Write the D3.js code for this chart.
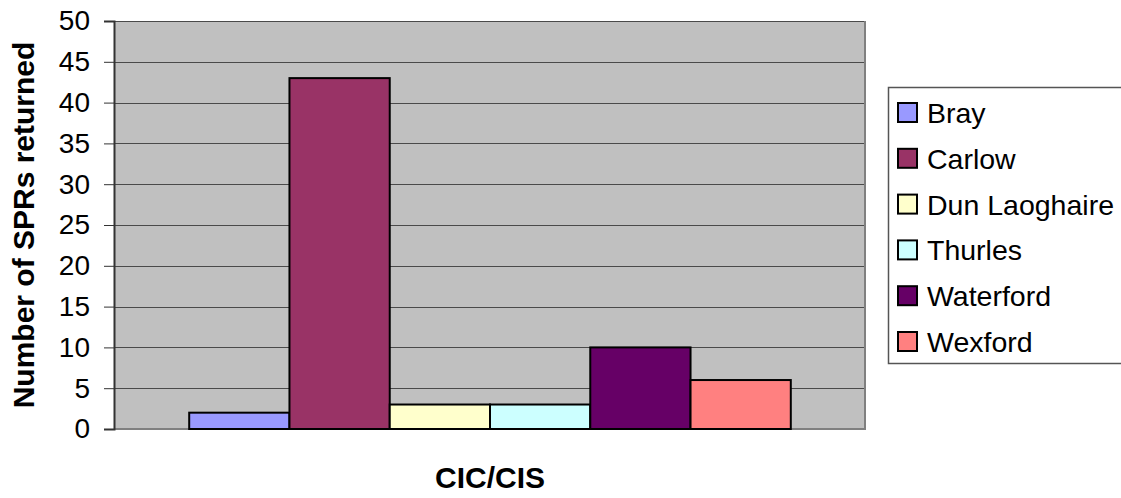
<!DOCTYPE html>
<html>
<head>
<meta charset="utf-8">
<script src="https://cdn.jsdelivr.net/npm/d3@7"></script>
<style>
  html, body { margin: 0; padding: 0; background: #fff; }
  svg { display: block; font-family: "Liberation Sans", Arial, sans-serif; }
</style>
</head>
<body>
<svg id="chart" width="1121" height="498"></svg>
<script>
// Returned SPRs per office, one category on the x axis
const categories = ["CIC/CIS"];
const seriesNames = ["Bray", "Carlow", "Dun Laoghaire", "Thurles", "Waterford", "Wexford"];
const seriesValues = [2, 43, 3, 3, 10, 6];
const seriesColors = ["#9999ff", "#993366", "#ffffcc", "#ccffff", "#660066", "#ff8080"];
const yTicks = [0, 5, 10, 15, 20, 25, 30, 35, 40, 45, 50];

const svg = d3.select("#chart");
const plot = { left: 114, right: 866, top: 21, bottom: 429 };

const y = d3.scaleLinear().domain([0, 50]).range([plot.bottom, plot.top]);
const x0 = d3.scaleBand().domain(categories).range([plot.left, plot.right]).padding(0);
const x1 = d3.scaleBand().domain(seriesNames).range([0, x0.bandwidth()])
  .paddingInner(0).paddingOuter(0.75);

// plot background
svg.append("rect")
  .attr("x", plot.left).attr("y", plot.top)
  .attr("width", plot.right - plot.left).attr("height", plot.bottom - plot.top)
  .attr("fill", "#c0c0c0");

// horizontal gridlines
svg.append("g").selectAll("line")
  .data(yTicks.filter(d => d > 0))
  .join("line")
  .attr("x1", plot.left).attr("x2", plot.right)
  .attr("y1", d => Math.round(y(d)) + 0.5).attr("y2", d => Math.round(y(d)) + 0.5)
  .attr("stroke", "#4a4a4a").attr("stroke-width", 1);

// right and bottom frame of the plot area
svg.append("path")
  .attr("d", `M${plot.right - 1},${plot.top} V${plot.bottom} H${plot.left}`)
  .attr("fill", "none").attr("stroke", "#808080").attr("stroke-width", 2);

// bars
const groups = svg.append("g").selectAll("g")
  .data(categories)
  .join("g")
  .attr("transform", d => `translate(${x0(d)},0)`);

groups.selectAll("rect")
  .data(() => seriesNames.map((name, i) => ({ name, value: seriesValues[i], color: seriesColors[i] })))
  .join("rect")
  .attr("x", d => x1(d.name))
  .attr("y", d => y(d.value))
  .attr("width", x1.bandwidth())
  .attr("height", d => y(0) - y(d.value))
  .attr("fill", d => d.color)
  .attr("stroke", "#000")
  .attr("stroke-width", 2);

// y axis
const yAxis = d3.axisLeft(y).tickValues(yTicks).tickSize(10).tickPadding(14).tickFormat(d3.format("d"));
const gy = svg.append("g")
  .attr("transform", `translate(${plot.left},0)`)
  .call(yAxis);
gy.select(".domain").attr("stroke", "#333").attr("stroke-width", 2);
gy.selectAll(".tick line").attr("stroke", "#333");
gy.selectAll(".tick text")
  .attr("font-family", "'Liberation Sans', Arial, sans-serif")
  .attr("font-size", 28).attr("fill", "#000");

// axis titles
svg.append("text")
  .attr("transform", `translate(34,${(plot.top + plot.bottom) / 2}) rotate(-90)`)
  .attr("text-anchor", "middle")
  .attr("font-size", 30).attr("font-weight", "bold")
  .text("Number of SPRs returned");

svg.append("text")
  .attr("x", (plot.left + plot.right) / 2).attr("y", 488)
  .attr("text-anchor", "middle")
  .attr("font-size", 30).attr("font-weight", "bold")
  .text(categories[0]);

// legend
const legend = svg.append("g");
legend.append("rect")
  .attr("x", 888.5).attr("y", 87.5)
  .attr("width", 260).attr("height", 276)
  .attr("fill", "#fff").attr("stroke", "#555").attr("stroke-width", 1.5);

const items = legend.selectAll("g.item")
  .data(seriesNames)
  .join("g")
  .attr("class", "item")
  .attr("transform", (d, i) => `translate(0,${113 + i * 45.8})`);

items.append("rect")
  .attr("x", 898).attr("y", -10)
  .attr("width", 19).attr("height", 19)
  .attr("fill", (d, i) => seriesColors[i])
  .attr("stroke", "#000").attr("stroke-width", 2);

items.append("text")
  .attr("x", 927).attr("y", 0)
  .attr("dy", "0.35em")
  .attr("font-size", 28.5)
  .text(d => d);
</script>
</body>
</html>
